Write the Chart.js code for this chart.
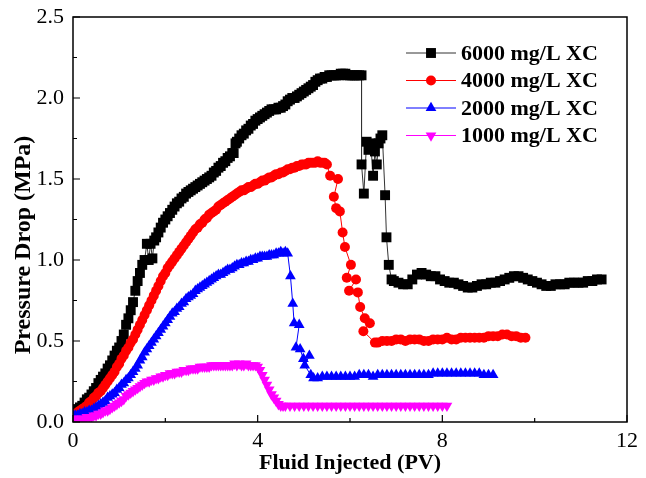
<!DOCTYPE html>
<html lang="en">
<head>
<meta charset="UTF-8">
<title>Pressure Drop vs Fluid Injected</title>
<script src="https://cdn.jsdelivr.net/npm/chart.js"></script>
<style>
  body { margin: 0; background: #fff; }
  #grafico { display: block; }
</style>
</head>
<body>
<canvas id="grafico" width="646" height="478"></canvas>
<script>
// dados (PV injetado x queda de pressão em MPa)
const pv6000 = [0, 0.05, 0.1, 0.15, 0.2, 0.25, 0.3, 0.35, 0.4, 0.45, 0.5, 0.55, 0.6, 0.65, 0.7, 0.75, 0.8, 0.85, 0.9, 0.95, 1.0, 1.05, 1.1, 1.15, 1.2, 1.25, 1.3, 1.35, 1.4, 1.45, 1.5, 1.55, 1.6, 1.64, 1.68, 1.72, 1.76, 1.8, 1.85, 1.9, 1.95, 2.0, 2.05, 2.1, 2.15, 2.2, 2.25, 2.3, 2.35, 2.4, 2.45, 2.5, 2.55, 2.6, 2.65, 2.7, 2.75, 2.8, 2.85, 2.9, 2.95, 3.0, 3.05, 3.1, 3.15, 3.2, 3.25, 3.3, 3.35, 3.4, 3.45, 3.48, 3.52, 3.55, 3.6, 3.65, 3.7, 3.75, 3.8, 3.85, 3.9, 3.95, 4.0, 4.05, 4.1, 4.15, 4.2, 4.25, 4.3, 4.35, 4.4, 4.45, 4.5, 4.55, 4.6, 4.65, 4.7, 4.75, 4.8, 4.85, 4.9, 4.95, 5.0, 5.05, 5.1, 5.15, 5.2, 5.25, 5.3, 5.35, 5.4, 5.45, 5.5, 5.55, 5.6, 5.65, 5.7, 5.75, 5.8, 5.85, 5.9, 5.95, 6.0, 6.05, 6.1, 6.15, 6.2, 6.25,
  6.25, 6.30, 6.36, 6.40, 6.45, 6.50, 6.54, 6.58, 6.62, 6.66, 6.70, 6.76, 6.79, 6.84, 6.90,
  6.95, 7.05, 7.15, 7.25, 7.35, 7.45, 7.55, 7.65, 7.75, 7.85, 7.95, 8.05, 8.15, 8.25, 8.35, 8.45, 8.55, 8.65, 8.75, 8.85, 8.95, 9.05, 9.15, 9.25, 9.35, 9.45, 9.55, 9.65, 9.75, 9.85, 9.95, 10.05, 10.15, 10.25, 10.35, 10.45, 10.55, 10.65, 10.75, 10.85, 10.95, 11.05, 11.15, 11.25, 11.35, 11.45];
const dp6000 = [0.07, 0.07, 0.08, 0.09, 0.10, 0.12, 0.14, 0.15, 0.17, 0.19, 0.21, 0.24, 0.26, 0.28, 0.30, 0.33, 0.35, 0.38, 0.41, 0.44, 0.46, 0.50, 0.54, 0.60, 0.64, 0.69, 0.74, 0.81, 0.87, 0.92, 0.97, 1.00, 1.10, 1.00, 1.10, 1.01, 1.12, 1.14, 1.17, 1.20, 1.23, 1.25, 1.27, 1.29, 1.31, 1.33, 1.35, 1.36, 1.38, 1.39, 1.41, 1.42, 1.43, 1.44, 1.45, 1.46, 1.47, 1.48, 1.49, 1.50, 1.51, 1.52, 1.54, 1.55, 1.57, 1.58, 1.60, 1.61, 1.63, 1.64, 1.66, 1.66, 1.72, 1.73, 1.75, 1.77, 1.78, 1.80, 1.81, 1.83, 1.84, 1.86, 1.87, 1.88, 1.89, 1.90, 1.91, 1.92, 1.93, 1.93, 1.93, 1.94, 1.94, 1.95, 1.96, 1.98, 1.99, 2.00, 2.00, 2.01, 2.02, 2.03, 2.04, 2.05, 2.06, 2.07, 2.08, 2.10, 2.11, 2.12, 2.12, 2.13, 2.13, 2.14, 2.14, 2.14, 2.14, 2.14, 2.15, 2.15, 2.15, 2.14, 2.14, 2.14, 2.14, 2.14, 2.14, 2.14,
  1.59, 1.41, 1.73, 1.68, 1.72, 1.52, 1.67, 1.59, 1.72, 1.75, 1.77, 1.40, 1.14, 0.97, 0.88,
  0.87, 0.86, 0.85, 0.85, 0.88, 0.91, 0.92, 0.91, 0.90, 0.90, 0.88, 0.87, 0.86, 0.86, 0.85, 0.84, 0.83, 0.83, 0.84, 0.85, 0.85, 0.86, 0.86, 0.87, 0.88, 0.89, 0.90, 0.90, 0.89, 0.88, 0.87, 0.86, 0.85, 0.84, 0.84, 0.85, 0.85, 0.85, 0.86, 0.86, 0.86, 0.86, 0.87, 0.87, 0.88, 0.88];

const pv4000 = [0, 0.05, 0.1, 0.15, 0.2, 0.25, 0.3, 0.35, 0.4, 0.45, 0.5, 0.55, 0.6, 0.65, 0.7, 0.75, 0.8, 0.85, 0.9, 0.95, 1.0, 1.05, 1.1, 1.15, 1.2, 1.25, 1.3, 1.35, 1.4, 1.45, 1.5, 1.55, 1.6, 1.65, 1.7, 1.75, 1.8, 1.85, 1.9, 1.95, 2.0, 2.05, 2.1, 2.15, 2.2, 2.25, 2.3, 2.35, 2.4, 2.45, 2.5, 2.55, 2.6, 2.65, 2.7, 2.75, 2.8, 2.85, 2.9, 2.95, 3.0, 3.05, 3.1, 3.15, 3.2, 3.25, 3.3, 3.35, 3.4, 3.45, 3.5, 3.55, 3.6, 3.65, 3.7, 3.75, 3.8, 3.85, 3.9, 3.95, 4.0, 4.05, 4.1, 4.15, 4.2, 4.25, 4.3, 4.35, 4.4, 4.45, 4.5, 4.55, 4.6, 4.65, 4.7, 4.75, 4.8, 4.85, 4.9, 4.95, 5.0, 5.05, 5.1, 5.15, 5.2, 5.25, 5.3, 5.35, 5.4, 5.45, 5.5,
  5.57, 5.74, 5.65, 5.70, 5.78, 5.84, 5.89, 6.02, 5.93, 6.13, 5.98, 6.17, 6.22, 6.32, 6.43, 6.29, 6.54,
  6.6, 6.7, 6.8, 6.9, 7.0, 7.1, 7.2, 7.3, 7.4, 7.5, 7.6, 7.7, 7.8, 7.9, 8.0, 8.1, 8.2, 8.3, 8.4, 8.5, 8.6, 8.7, 8.8, 8.9, 9.0, 9.1, 9.2, 9.3, 9.4, 9.5, 9.6, 9.7, 9.8];
const dp4000 = [0.05, 0.05, 0.06, 0.07, 0.08, 0.09, 0.10, 0.12, 0.13, 0.15, 0.16, 0.18, 0.19, 0.21, 0.23, 0.25, 0.27, 0.29, 0.31, 0.34, 0.36, 0.39, 0.41, 0.44, 0.46, 0.49, 0.51, 0.54, 0.57, 0.60, 0.63, 0.66, 0.69, 0.72, 0.75, 0.78, 0.81, 0.84, 0.87, 0.90, 0.92, 0.95, 0.97, 0.99, 1.01, 1.03, 1.05, 1.07, 1.09, 1.11, 1.13, 1.15, 1.17, 1.19, 1.20, 1.22, 1.23, 1.25, 1.26, 1.28, 1.29, 1.30, 1.31, 1.33, 1.34, 1.35, 1.36, 1.37, 1.38, 1.39, 1.40, 1.41, 1.42, 1.43, 1.43, 1.44, 1.45, 1.45, 1.46, 1.47, 1.47, 1.48, 1.49, 1.49, 1.50, 1.51, 1.51, 1.52, 1.53, 1.53, 1.54, 1.54, 1.55, 1.56, 1.56, 1.57, 1.57, 1.58, 1.58, 1.59, 1.59, 1.59, 1.60, 1.60, 1.60, 1.60, 1.61, 1.60, 1.60, 1.60, 1.59,
  1.52, 1.50, 1.39, 1.32, 1.30, 1.17, 1.08, 0.97, 0.89, 0.88, 0.81, 0.80, 0.71, 0.64, 0.61, 0.56, 0.49,
  0.49, 0.50, 0.50, 0.50, 0.51, 0.51, 0.50, 0.51, 0.51, 0.51, 0.50, 0.50, 0.51, 0.51, 0.51, 0.52, 0.51, 0.51, 0.52, 0.52, 0.52, 0.52, 0.52, 0.52, 0.53, 0.53, 0.53, 0.54, 0.54, 0.53, 0.53, 0.52, 0.52];

const pv2000 = [0, 0.05, 0.1, 0.15, 0.2, 0.25, 0.3, 0.35, 0.4, 0.45, 0.5, 0.55, 0.6, 0.65, 0.7, 0.75, 0.8, 0.85, 0.9, 0.95, 1.0, 1.05, 1.1, 1.15, 1.2, 1.25, 1.3, 1.35, 1.4, 1.45, 1.5, 1.55, 1.6, 1.65, 1.7, 1.75, 1.8, 1.85, 1.9, 1.95, 2.0, 2.05, 2.1, 2.15, 2.2, 2.25, 2.3, 2.35, 2.4, 2.45, 2.5, 2.55, 2.6, 2.65, 2.7, 2.75, 2.8, 2.85, 2.9, 2.95, 3.0, 3.05, 3.1, 3.15, 3.2, 3.25, 3.3, 3.35, 3.4, 3.45, 3.5, 3.55, 3.6, 3.65, 3.7, 3.75, 3.8, 3.85, 3.9, 3.95, 4.0, 4.05, 4.1, 4.15, 4.2, 4.25, 4.3, 4.35, 4.4, 4.45, 4.5, 4.55, 4.6, 4.65,
  4.71, 4.76, 4.79, 4.90, 4.83, 4.92, 4.99, 5.12, 5.02, 5.15, 5.21,
  5.3, 5.4, 5.5, 5.6, 5.7, 5.8, 5.9, 6.0, 6.1, 6.2, 6.3, 6.4, 6.5, 6.6, 6.7, 6.8, 6.9, 7.0, 7.1, 7.2, 7.3, 7.4, 7.5, 7.6, 7.7, 7.8, 7.9, 8.0, 8.1, 8.2, 8.3, 8.4, 8.5, 8.6, 8.7, 8.8, 8.9, 9.0, 9.1];
const dp2000 = [0.04, 0.04, 0.04, 0.05, 0.05, 0.06, 0.06, 0.07, 0.07, 0.08, 0.09, 0.10, 0.11, 0.12, 0.13, 0.15, 0.16, 0.17, 0.18, 0.20, 0.21, 0.23, 0.24, 0.26, 0.27, 0.29, 0.31, 0.33, 0.35, 0.38, 0.40, 0.43, 0.45, 0.47, 0.49, 0.51, 0.53, 0.55, 0.57, 0.59, 0.61, 0.63, 0.65, 0.67, 0.68, 0.70, 0.71, 0.73, 0.74, 0.76, 0.77, 0.78, 0.79, 0.81, 0.82, 0.83, 0.84, 0.85, 0.86, 0.87, 0.88, 0.89, 0.90, 0.91, 0.91, 0.92, 0.93, 0.94, 0.94, 0.95, 0.96, 0.97, 0.97, 0.98, 0.98, 0.99, 0.99, 1.00, 1.00, 1.01, 1.01, 1.02, 1.02, 1.02, 1.02, 1.03, 1.03, 1.03, 1.04, 1.04, 1.05, 1.04, 1.05, 1.04,
  0.90, 0.73, 0.61, 0.60, 0.46, 0.45, 0.39, 0.41, 0.35, 0.29, 0.27,
  0.27, 0.28, 0.28, 0.28, 0.28, 0.28, 0.28, 0.28, 0.28, 0.29, 0.29, 0.29, 0.28, 0.29, 0.29, 0.29, 0.29, 0.29, 0.29, 0.29, 0.29, 0.29, 0.29, 0.29, 0.29, 0.30, 0.30, 0.30, 0.30, 0.30, 0.30, 0.30, 0.30, 0.30, 0.30, 0.30, 0.29, 0.29, 0.29];

const pv1000 = [0, 0.05, 0.1, 0.15, 0.2, 0.25, 0.3, 0.35, 0.4, 0.45, 0.5, 0.55, 0.6, 0.65, 0.7, 0.75, 0.8, 0.85, 0.9, 0.95, 1.0, 1.05, 1.1, 1.15, 1.2, 1.25, 1.3, 1.35, 1.4, 1.45, 1.5, 1.55, 1.6, 1.65, 1.7, 1.75, 1.8, 1.85, 1.9, 1.95, 2.0, 2.05, 2.1, 2.15, 2.2, 2.25, 2.3, 2.35, 2.4, 2.45, 2.5, 2.55, 2.6, 2.65, 2.7, 2.75, 2.8, 2.85, 2.9, 2.95, 3.0, 3.05, 3.1, 3.15, 3.2, 3.25, 3.3, 3.35, 3.4, 3.45, 3.5, 3.55, 3.6, 3.65, 3.7, 3.75, 3.8, 3.85, 3.9, 3.95, 4.0,
  4.05, 4.10, 4.15, 4.20, 4.25, 4.30, 4.35, 4.40, 4.45, 4.50, 4.55,
  4.6, 4.7, 4.8, 4.9, 5.0, 5.1, 5.2, 5.3, 5.4, 5.5, 5.6, 5.7, 5.8, 5.9, 6.0, 6.1, 6.2, 6.3, 6.4, 6.5, 6.6, 6.7, 6.8, 6.9, 7.0, 7.1, 7.2, 7.3, 7.4, 7.5, 7.6, 7.7, 7.8, 7.9, 8.0, 8.1];
const dp1000 = [0.02, 0.02, 0.02, 0.02, 0.02, 0.02, 0.03, 0.03, 0.03, 0.04, 0.04, 0.05, 0.05, 0.06, 0.07, 0.07, 0.08, 0.09, 0.10, 0.11, 0.12, 0.13, 0.14, 0.16, 0.17, 0.18, 0.19, 0.20, 0.21, 0.22, 0.23, 0.24, 0.25, 0.25, 0.26, 0.26, 0.27, 0.27, 0.28, 0.28, 0.29, 0.29, 0.30, 0.30, 0.30, 0.31, 0.31, 0.31, 0.32, 0.32, 0.32, 0.33, 0.33, 0.33, 0.33, 0.34, 0.34, 0.34, 0.34, 0.34, 0.35, 0.35, 0.35, 0.35, 0.35, 0.35, 0.35, 0.35, 0.35, 0.35, 0.36, 0.35, 0.36, 0.35, 0.35, 0.36, 0.35, 0.35, 0.35, 0.35, 0.34,
  0.32, 0.29, 0.26, 0.23, 0.20, 0.17, 0.15, 0.13, 0.11, 0.10, 0.10,
  0.10, 0.10, 0.10, 0.10, 0.10, 0.10, 0.10, 0.10, 0.10, 0.10, 0.10, 0.10, 0.10, 0.10, 0.10, 0.10, 0.10, 0.10, 0.10, 0.10, 0.10, 0.10, 0.10, 0.10, 0.10, 0.10, 0.10, 0.10, 0.10, 0.10, 0.10, 0.10, 0.10, 0.10, 0.10, 0.10];

const rotulos = ['6000 mg/L XC', '4000 mg/L XC', '2000 mg/L XC', '1000 mg/L XC'];
const xMaiores = [0, 4, 8, 12];
const xMenores = [2, 6, 10];
const yMaiores = [0, 0.5, 1.0, 1.5, 2.0, 2.5];
const yMenores = [0.25, 0.75, 1.25, 1.75, 2.25];

const fonte = "'Liberation Serif', 'Times New Roman', serif";

function pares(xs, ys) {
  return xs.map((v, i) => ({ x: v, y: ys[i] }));
}

function serie(label, xs, ys, cor, linha, estilo, raio, rot, ordem) {
  return {
    label: label,
    data: pares(xs, ys),
    showLine: true,
    borderColor: linha,
    borderWidth: 1,
    backgroundColor: cor,
    pointBackgroundColor: cor,
    pointBorderColor: cor,
    pointBorderWidth: 0,
    pointStyle: estilo,
    pointRadius: raio,
    pointRotation: rot,
    pointHoverRadius: raio,
    clip: 0,
    order: ordem
  };
}

// moldura + marcas de escala para dentro + título do eixo y
const moldura = {
  id: 'moldura',
  afterDraw(chart) {
    const ctx = chart.ctx;
    const a = chart.chartArea;
    const sx = chart.scales.x;
    const sy = chart.scales.y;
    ctx.save();
    ctx.strokeStyle = '#000';
    ctx.lineWidth = 1.5;
    ctx.strokeRect(a.left, a.top, a.right - a.left, a.bottom - a.top);
    ctx.lineWidth = 1.2;
    ctx.beginPath();
    xMaiores.forEach(v => { const p = sx.getPixelForValue(v); ctx.moveTo(p, a.bottom); ctx.lineTo(p, a.bottom - 7); });
    xMenores.forEach(v => { const p = sx.getPixelForValue(v); ctx.moveTo(p, a.bottom); ctx.lineTo(p, a.bottom - 4); });
    yMaiores.forEach(v => { const p = sy.getPixelForValue(v); ctx.moveTo(a.left, p); ctx.lineTo(a.left + 7, p); });
    yMenores.forEach(v => { const p = sy.getPixelForValue(v); ctx.moveTo(a.left, p); ctx.lineTo(a.left + 4, p); });
    ctx.stroke();

    ctx.translate(24, 245);
    ctx.rotate(-Math.PI / 2);
    ctx.font = 'bold 24px ' + fonte;
    ctx.textAlign = 'center';
    ctx.textBaseline = 'middle';
    ctx.fillStyle = '#000';
    ctx.fillText('Pressure Drop (MPa)', 0, 0);
    ctx.restore();
  }
};

// legenda desenhada: linha + marcador + texto
const legenda = {
  id: 'legenda',
  afterDraw(chart) {
    const ctx = chart.ctx;
    const a = chart.chartArea;
    const x0 = a.left + 333;
    ctx.save();
    ctx.font = 'bold 22px ' + fonte;
    ctx.textBaseline = 'middle';
    const ds = chart.data.datasets;
    for (let i = 0; i < ds.length; i++) {
      const d = ds[i];
      const y = a.top + 36 + i * 27.5;
      ctx.strokeStyle = d.borderColor;
      ctx.lineWidth = 1;
      ctx.beginPath();
      ctx.moveTo(x0, y);
      ctx.lineTo(x0 + 50, y);
      ctx.stroke();
      ctx.fillStyle = d.pointBackgroundColor;
      ctx.strokeStyle = d.pointBorderColor;
      Chart.helpers.drawPoint(ctx, {
        pointStyle: d.pointStyle, rotation: d.pointRotation,
        radius: d.pointRadius, borderWidth: 0
      }, x0 + 25, y);
      ctx.fillStyle = '#000';
      ctx.fillText(d.label, x0 + 55, y + 1);
    }
    ctx.restore();
  }
};

new Chart(document.getElementById('grafico'), {
  type: 'scatter',
  data: {
    datasets: [
      serie(rotulos[0], pv6000, dp6000, '#000000', '#333333', 'rect', 7, 0, 4),
      serie(rotulos[1], pv4000, dp4000, '#ff0000', '#ff0000', 'circle', 5, 0, 3),
      serie(rotulos[2], pv2000, dp2000, '#0000ff', '#0000ff', 'triangle', 6.2, 0, 2),
      serie(rotulos[3], pv1000, dp1000, '#ff00ff', '#ff00ff', 'triangle', 6.2, 180, 1)
    ]
  },
  options: {
    responsive: false,
    animation: false,
    layout: { padding: { top: 17, right: 19, left: 0, bottom: 0 } },
    plugins: {
      legend: { display: false },
      tooltip: { enabled: false }
    },
    scales: {
      x: {
        type: 'linear',
        min: 0,
        max: 12,
        grid: { display: false, drawTicks: false },
        border: { display: false },
        ticks: {
          stepSize: 4,
          padding: 6,
          color: '#000',
          font: { family: fonte, size: 22 },
          maxRotation: 0
        },
        title: {
          display: true,
          text: 'Fluid Injected (PV)',
          color: '#000',
          font: { family: fonte, size: 22, weight: 'bold' },
          padding: { top: 0, bottom: 1 }
        },
        afterFit(s) { s.height = 56; }
      },
      y: {
        type: 'linear',
        min: 0,
        max: 2.5,
        grid: { display: false, drawTicks: false },
        border: { display: false },
        ticks: {
          stepSize: 0.5,
          padding: 9,
          color: '#000',
          font: { family: fonte, size: 22, lineHeight: 0.7 },
          callback: v => v.toFixed(1)
        },
        afterFit(s) { s.width = 73; }
      }
    }
  },
  plugins: [moldura, legenda]
});
</script>
</body>
</html>
